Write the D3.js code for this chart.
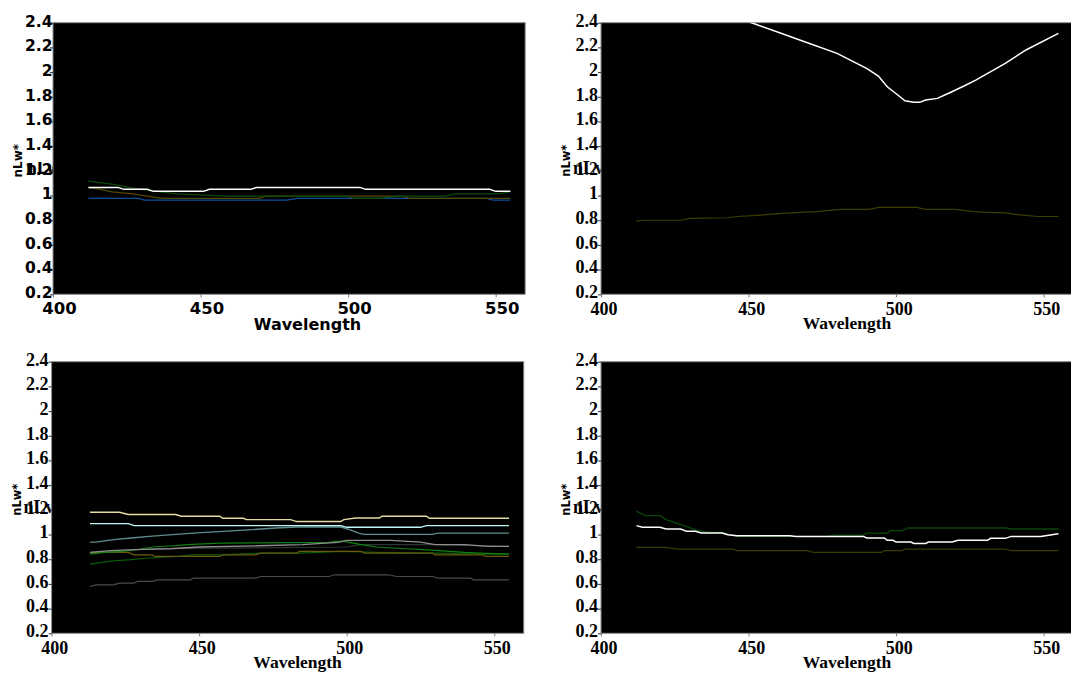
<!DOCTYPE html>
<html><head><meta charset="utf-8">
<script src="https://cdn.jsdelivr.net/npm/d3@7"></script>
<style>body{margin:0;background:#fff}svg{display:block}</style>
</head><body>
<svg id="chart" width="1071" height="675"></svg>
<script>
// ---------- DATA ----------
const wavelengthTicks = [400, 450, 500, 550];
const nlwTicks = [0.2, 0.4, 0.6, 0.8, 1.0, 1.2, 1.4, 1.6, 1.8, 2.0, 2.2, 2.4];

// Panel 1 (top-left)
const p1WhiteWl = [412,422,424,432,434,451,453,467,469,504,506,548,550,555];
const p1WhiteV  = [1.066,1.066,1.05,1.05,1.034,1.034,1.05,1.05,1.066,1.066,1.05,1.05,1.034,1.034];
const p1GreenWl = [412,420,427,433,442,459,499,502,511,517,533,536,551,555];
const p1GreenV  = [1.117,1.093,1.06,1.04,1.013,0.996,0.996,0.977,0.977,0.996,0.996,1.013,1.013,1.03];
const p1OliveWl = [412,416,420,427,432,437,470,472,500,518,521,555];
const p1OliveV  = [1.066,1.05,1.03,1.013,0.996,0.977,0.977,0.996,0.996,0.996,0.977,0.977];
const p1BlueWl  = [412,429,431,479,483,547,549,555];
const p1BlueV   = [0.977,0.977,0.963,0.963,0.977,0.977,0.963,0.963];

// Panel 2 (top-right)
const p2WhiteWl = [412,430,443,451,461,469,480,490,494,497,501,503,506,508,510,514,518,523,527,534,537,544,555];
const p2WhiteV  = [2.72,2.57,2.46,2.4,2.314,2.246,2.152,2.03,1.968,1.881,1.806,1.768,1.755,1.755,1.774,1.787,1.831,1.887,1.935,2.03,2.071,2.179,2.314];
const p2OliveWl = [412,414,427,430,443,446,453,464,473,481,491,494,507,510,520,526,529,537,541,548,555];
const p2OliveV  = [0.79,0.80,0.80,0.815,0.82,0.83,0.84,0.86,0.87,0.888,0.888,0.904,0.904,0.888,0.888,0.87,0.865,0.86,0.845,0.83,0.83];

// Panel 3 (bottom-left)
const p3CreamWl = [413,423,426,442,444,457,458,465,466,481,483,498,499,503,511,512,527,528,555];
const p3CreamV  = [1.18,1.18,1.162,1.162,1.148,1.148,1.132,1.132,1.121,1.121,1.105,1.105,1.121,1.134,1.134,1.148,1.148,1.132,1.132];
const p3CyanWl  = [413,426,428,498,500,525,527,555];
const p3CyanV   = [1.088,1.088,1.072,1.072,1.059,1.059,1.072,1.072];
const p3TealWl  = [413,415,421,427,433,441,448,458,468,476,483,498,501,504,506,529,531,555];
const p3TealV   = [0.939,0.939,0.958,0.972,0.985,0.999,1.012,1.026,1.04,1.053,1.061,1.061,1.04,1.012,1.002,1.002,1.012,1.012];
const p3GrayWl  = [413,415,420,428,440,450,470,485,497,500,515,525,530,540,548,555];
const p3GrayV   = [0.855,0.86,0.87,0.877,0.885,0.899,0.909,0.918,0.937,0.953,0.953,0.939,0.918,0.918,0.904,0.904];
const p3DarkWl  = [433,500,505,530,555];
const p3DarkV   = [0.885,0.899,0.918,0.918,0.904];
const p3GreenWl = [413,418,424,429,434,441,446,457,494,496,499,505,510,520,526,535,540,545,555];
const p3GreenV  = [0.842,0.855,0.863,0.877,0.899,0.909,0.918,0.93,0.937,0.945,0.945,0.918,0.899,0.885,0.877,0.863,0.855,0.85,0.842];
const p3DkGreenWl = [413,417,421,427,433,443,448,457,471,484,499,510,530,545,555];
const p3DkGreenV  = [0.76,0.774,0.787,0.796,0.81,0.823,0.836,0.836,0.85,0.85,0.863,0.855,0.85,0.842,0.842];
const p3OliveWl = [413,426,428,434,435,457,458,469,471,483,484,505,506,529,530,546,547,555];
const p3OliveV  = [0.855,0.855,0.836,0.836,0.823,0.823,0.836,0.836,0.85,0.85,0.863,0.863,0.85,0.85,0.836,0.836,0.823,0.823];
const p3BottomWl = [413,415,421,423,428,429,434,436,447,448,469,471,494,496,514,517,529,531,542,543,555];
const p3BottomV  = [0.579,0.592,0.592,0.606,0.606,0.62,0.62,0.633,0.633,0.647,0.647,0.66,0.66,0.674,0.674,0.66,0.66,0.647,0.647,0.633,0.633];

// Panel 4 (bottom-right)
const p4GreenWl = [412,415,420,422,427,432,436,441,446,477,479,489,490,497,498,502,504,537,539,555];
const p4GreenV  = [1.189,1.153,1.153,1.121,1.08,1.04,1.018,1.018,0.985,0.985,0.996,0.996,1.012,1.012,1.031,1.031,1.053,1.053,1.045,1.045];
const p4WhiteWl = [412,414,420,422,427,429,432,434,441,443,446,464,466,489,490,496,497,499,500,505,506,510,511,519,521,531,532,537,539,549,555];
const p4WhiteV  = [1.072,1.059,1.059,1.045,1.045,1.026,1.026,1.012,1.012,0.999,0.991,0.991,0.985,0.985,0.972,0.972,0.953,0.953,0.939,0.939,0.928,0.928,0.939,0.939,0.953,0.953,0.969,0.969,0.985,0.985,1.007];
const p4OliveWl = [412,422,426,445,446,470,472,495,496,502,503,537,539,555];
const p4OliveV  = [0.896,0.896,0.882,0.882,0.869,0.869,0.855,0.855,0.869,0.869,0.882,0.882,0.869,0.869];

// ---------- DRAWING ----------
const zip = (a, b) => a.map((d, i) => [d, b[i]]);
const svg = d3.select('#chart');
const PW = 160 * 2.951, PH = 271.6;

const panels = [
  { left: 53, top: 22.7, sans: true,
    series: [
      {wl: p1BlueWl, v: p1BlueV, c: '#0d4f96', w: 1.3},
      {wl: p1OliveWl, v: p1OliveV, c: '#4f4a00', w: 1.3},
      {wl: p1GreenWl, v: p1GreenV, c: '#0b4a0b', w: 1.3},
      {wl: p1WhiteWl, v: p1WhiteV, c: '#ffffff', w: 1.5}
    ]},
  { left: 601, top: 22.7, sans: false,
    series: [
      {wl: p2OliveWl, v: p2OliveV, c: '#3f3c00', w: 1.2},
      {wl: p2WhiteWl, v: p2WhiteV, c: '#ffffff', w: 1.5}
    ]},
  { left: 51.6, top: 361.7, sans: false,
    series: [
      {wl: p3BottomWl, v: p3BottomV, c: '#4a4a4a', w: 1.2},
      {wl: p3DarkWl, v: p3DarkV, c: '#2c3434', w: 1.2},
      {wl: p3DkGreenWl, v: p3DkGreenV, c: '#0a5a0a', w: 1.2},
      {wl: p3OliveWl, v: p3OliveV, c: '#6a5a10', w: 1.2},
      {wl: p3GreenWl, v: p3GreenV, c: '#0e800e', w: 1.2},
      {wl: p3GrayWl, v: p3GrayV, c: '#8e8e8e', w: 1.3},
      {wl: p3TealWl, v: p3TealV, c: '#5e8c8c', w: 1.3},
      {wl: p3CyanWl, v: p3CyanV, c: '#bff6f6', w: 1.3},
      {wl: p3CreamWl, v: p3CreamV, c: '#e4dca2', w: 1.4}
    ]},
  { left: 601, top: 361.7, sans: false,
    series: [
      {wl: p4OliveWl, v: p4OliveV, c: '#3d3a00', w: 1.2},
      {wl: p4GreenWl, v: p4GreenV, c: '#0b450b', w: 1.3},
      {wl: p4WhiteWl, v: p4WhiteV, c: '#ffffff', w: 1.5}
    ]}
];

panels.forEach((p, idx) => {
  const font = p.sans ? 'DejaVu Sans, Verdana, sans-serif' : 'Liberation Serif, Times New Roman, serif';
  const ySize = p.sans ? 15.5 : 18;
  const xSize = p.sans ? 16.5 : 18;
  const x = d3.scaleLinear().domain([400, 560]).range([p.left, p.left + PW]);
  const y = d3.scaleLinear().domain([0.2, 2.4]).range([p.top + PH, p.top]);
  const g = svg.append('g');

  // stray horizontal axis-title fragment behind the plot (as in the original)
  g.append('text')
    .attr('x', p.left - (p.sans ? 27 : 28))
    .attr('y', y(1.2) + 3.3)
    .attr('font-family', font).attr('font-weight', 'bold')
    .attr('font-size', ySize).attr('fill', '#000')
    .text('nLw');

  // plot area
  g.append('rect')
    .attr('x', x.range()[0]).attr('y', y.range()[1])
    .attr('width', PW).attr('height', PH)
    .attr('fill', '#000').attr('stroke', '#8c8c8c').attr('stroke-width', 1);

  const clipId = 'clip' + idx;
  svg.append('clipPath').attr('id', clipId).append('rect')
    .attr('x', x.range()[0]).attr('y', y.range()[1])
    .attr('width', PW).attr('height', PH);

  // Y axis
  const ya = g.append('g').attr('transform', `translate(${p.left},0)`)
    .call(d3.axisLeft(y).tickValues(nlwTicks).tickSize(3).tickFormat(d3.format('~g')));
  ya.select('.domain').remove();
  ya.selectAll('.tick line').attr('stroke', '#333');
  ya.selectAll('.tick text')
    .attr('x', p.sans ? -0.5 : -3).attr('dy', 3.3)
    .attr('font-family', font).attr('font-weight', 'bold')
    .attr('font-size', ySize).attr('fill', '#000');

  // X axis
  const xa = g.append('g').attr('transform', `translate(0,${p.top + PH})`)
    .call(d3.axisBottom(x).tickValues(wavelengthTicks).tickSize(3).tickFormat(d3.format('d')));
  xa.select('.domain').remove();
  xa.selectAll('.tick line').attr('stroke', '#777');
  xa.selectAll('.tick text')
    .attr('y', 0).attr('dy', p.sans ? 19.7 : 20.7)
    .attr('dx', p.sans ? 6 : 2.6)
    .attr('font-family', font).attr('font-weight', 'bold')
    .attr('font-size', xSize).attr('fill', '#000');

  // X title
  g.append('text')
    .attr('x', p.left + (p.sans ? 254.5 : 246))
    .attr('y', p.top + (p.sans ? 307.3 : 306.3))
    .attr('text-anchor', 'middle')
    .attr('font-family', font).attr('font-weight', 'bold')
    .attr('font-size', p.sans ? 16 : 17.5).attr('fill', '#000')
    .text('Wavelength');

  // Y title
  const cx = p.left - 31, cy = p.top + 138;
  g.append('text')
    .attr('transform', `translate(${cx},${cy}) rotate(-90)`)
    .attr('text-anchor', 'middle')
    .attr('font-family', 'DejaVu Sans, sans-serif').attr('font-weight', 'bold')
    .attr('font-size', p.sans ? 12 : 11.5).attr('fill', '#000')
    .text('nLw*');

  // lines
  const line = d3.line().x(d => x(d[0])).y(d => y(d[1]));
  const lg = g.append('g').attr('clip-path', `url(#${clipId})`);
  p.series.forEach(s => {
    lg.append('path')
      .attr('d', line(zip(s.wl, s.v)))
      .attr('fill', 'none').attr('stroke', s.c).attr('stroke-width', s.w);
  });
});
</script>
</body></html>
